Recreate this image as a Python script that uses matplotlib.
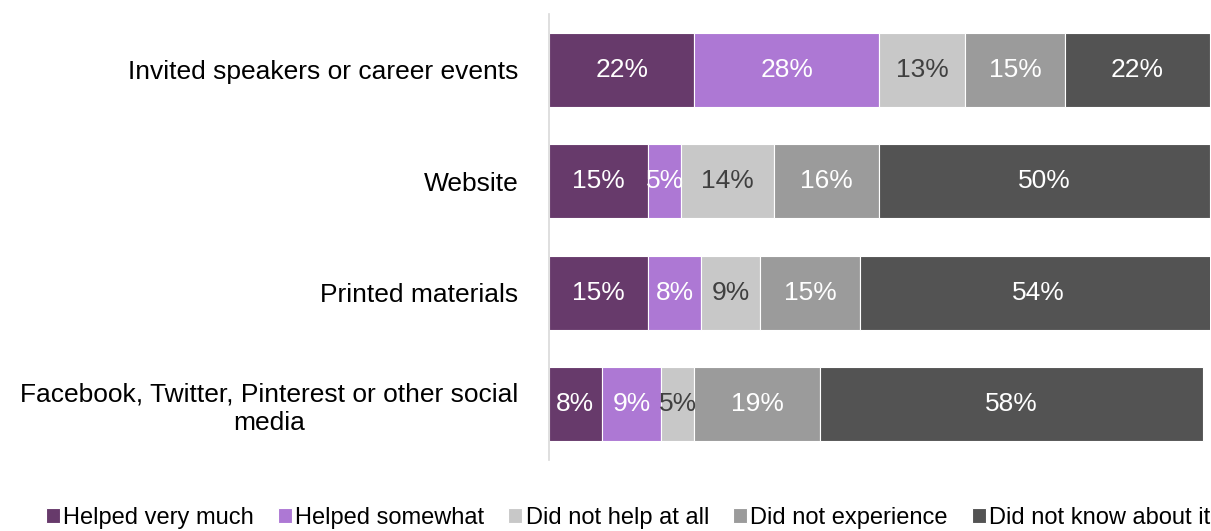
import matplotlib.pyplot as plt
import numpy as np

plt.rcParams['font.family'] = ['Liberation Sans', 'DejaVu Sans']

categories = ["Invited speakers or career events", "Website", "Printed materials",
              "Facebook, Twitter, Pinterest or other social\nmedia"]
series = ["Helped very much", "Helped somewhat", "Did not help at all",
          "Did not experience", "Did not know about it"]
values = [
    [22, 15, 15, 8],
    [28, 5, 8, 9],
    [13, 14, 9, 5],
    [15, 16, 15, 19],
    [22, 50, 54, 58],
]
colors = ["#673A6B", "#AD78D4", "#C8C8C8", "#9B9B9B", "#535353"]
text_colors = ["white", "white", "#404040", "white", "white"]

fig = plt.figure(figsize=(12.11, 5.31), dpi=100)
ax = fig.add_axes([0.4533, 0.1337, 0.5459, 0.8399])

y = np.arange(len(categories))
left = np.zeros(len(categories))
for name, vals, c, tc in zip(series, values, colors, text_colors):
    vals = np.array(vals)
    bars = ax.barh(y, vals, left=left, height=0.667, color=c, edgecolor='white',
                   linewidth=0.8, label=name)
    for b, v in zip(bars, vals):
        ax.text(b.get_x() + b.get_width() / 2, b.get_y() + b.get_height() / 2,
                f"{v}%", ha='center', va='center', color=tc, fontsize=19)
    left += vals

ax.set_xlim(0, 100)
ax.set_ylim(len(categories) - 0.5, -0.5)
ax.set_yticks(y)
ax.set_yticklabels(categories, fontsize=19, multialignment='center')
ax.tick_params(axis='y', length=0, pad=22)
ax.set_xticks([])
for s in ['top', 'right', 'bottom']:
    ax.spines[s].set_visible(False)
ax.spines['left'].set_color('#D9D9D9')
ax.spines['left'].set_linewidth(1.2)

fig.legend(loc='lower center', bbox_to_anchor=(0.5186, -0.036), ncol=5, frameon=False,
           fontsize=17, handlelength=0.6, handleheight=0.6, handletextpad=0.15,
           columnspacing=1.0)

fig.savefig("out.png", dpi=100)
